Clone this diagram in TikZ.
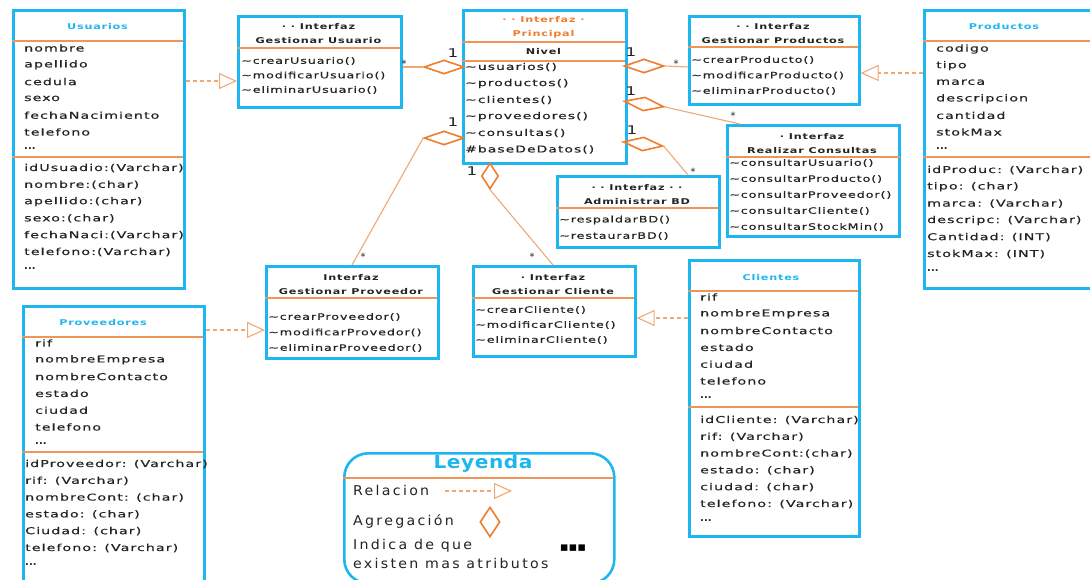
\documentclass[tikz,border=0pt]{standalone}
\usepackage{fontspec}
\usetikzlibrary{shapes.geometric,arrows.meta}
\newfontfamily\attrfont[FakeStretch=1.5,LetterSpace=11,FakeBold=0.4]{DejaVu Sans}
\newfontfamily\methfont[FakeStretch=1.45,LetterSpace=10,FakeBold=0.4]{DejaVu Sans}
\newfontfamily\headfont[FakeStretch=1.4,LetterSpace=10]{DejaVu Sans}
\newfontfamily\legfont[FakeStretch=1.05,LetterSpace=17]{DejaVu Sans}
\newfontfamily\bigtitlefont[FakeStretch=1.12,LetterSpace=3]{DejaVu Sans}
\newfontfamily\symfont{DejaVu Sans}
\newcommand\etcdots{{\symfont\fontsize{10}{10}\selectfont\bfseries ...}}
\definecolor{umlcyan}{RGB}{30,182,240}
\definecolor{sepor}{RGB}{236,150,90}
\definecolor{linkor}{RGB}{240,168,115}
\definecolor{diaor}{RGB}{238,125,45}
\definecolor{ink}{RGB}{35,35,35}

\tikzset{
  classbox/.style={draw=umlcyan, line width=2.6pt, rectangle, anchor=north west, inner sep=0pt},
  sep/.style={draw=sepor, line width=1.3pt},
  attr/.style={anchor=west, inner sep=0pt, font=\attrfont\fontsize{9.5}{11}\selectfont, text=ink},
  methA/.style={anchor=west, inner sep=0pt, font=\attrfont\fontsize{9.3}{11}\selectfont, text=ink},
  meth/.style={anchor=west, inner sep=0pt, font=\methfont\fontsize{8.8}{10}\selectfont, text=ink},
  ctitle/.style={inner sep=0pt, font=\headfont\bfseries\fontsize{8}{10}\selectfont, text=umlcyan},
  ititle/.style={inner sep=0pt, align=center, font=\headfont\bfseries\fontsize{8}{14}\selectfont, text=ink},
  agg/.style={draw=diaor, line width=1.6pt, diamond, minimum width=40pt, minimum height=14pt, inner sep=0pt},
  link/.style={draw=linkor, line width=1.1pt},
  rel/.style={draw=linkor, line width=1.1pt, dash pattern=on 4pt off 3pt,
    -{Triangle[open, length=18pt, width=16pt, line width=1.1pt]}},
  mult/.style={inner sep=0pt, font=\headfont\fontsize{12}{12}\selectfont, text=ink},
  star/.style={inner sep=0pt, font=\symfont\fontsize{10}{10}\selectfont, text=ink},
  legtext/.style={anchor=west, inner sep=0pt, font=\legfont\fontsize{13.5}{15}\selectfont, text=ink},
}

\begin{document}
\begin{tikzpicture}[x=1pt, y=-1pt]
\useasboundingbox (0,0) rectangle (1090,579);

% ---------- Usuarios ----------
\node[classbox, minimum width=171pt, minimum height=278pt] (usuarios) at (12,9) {};
\node[ctitle] (usuariosT) at (97.5,27) {Usuarios};
\draw[sep] (12,41) -- (183,41);
\draw[sep] (12,157) -- (183,157);
\foreach \t [count=\i] in {nombre, apellido, cedula, sexo, fechaNacimiento, telefono, \etcdots}
  \node[attr] (ua\i) at (24,{48+16.8*(\i-1)}) {\t};
\foreach \t [count=\i] in {idUsuadio:(Varchar), nombre:(char), apellido:(char), sexo:(char), fechaNaci:(Varchar), telefono:(Varchar), \etcdots}
  \node[attr] (ub\i) at (24,{168+16.8*(\i-1)}) {\t};

% ---------- Interfaz Gestionar Usuario ----------
\node[classbox, minimum width=163pt, minimum height=91pt] (gusuario) at (237,15) {};
\node[ititle] (gusuarioT) at (318.5,34) {· · Interfaz\\Gestionar Usuario};
\draw[sep] (237,48) -- (400,48);
\foreach \t [count=\i] in {\~{}crearUsuario(), \~{}modificarUsuario(), \~{}eliminarUsuario()}
  \node[meth] (gum\i) at (241,{61+14.5*(\i-1)}) {\t};

% ---------- Interfaz Principal ----------
\node[classbox, minimum width=163pt, minimum height=153pt] (principal) at (462,9) {};
\node[ititle, text=diaor] (principalT) at (543.5,27.5) {· · Interfaz ·\\Principal};
\draw[sep] (462,42) -- (625,42);
\node[ititle] (nivel) at (543.5,52) {Nivel};
\draw[sep] (462,61) -- (625,61);
\foreach \t [count=\i] in {\~{}usuarios(), \~{}productos(), \~{}clientes(), \~{}proveedores(), \~{}consultas(), \#baseDeDatos()}
  \node[methA] (pm\i) at (465,{67+16.5*(\i-1)}) {\t};

% ---------- Interfaz Gestionar Productos ----------
\node[classbox, minimum width=170pt, minimum height=88pt] (gproductos) at (688,15) {};
\node[ititle] (gproductosT) at (773,33.5) {· · Interfaz\\Gestionar Productos};
\draw[sep] (688,47) -- (858,47);
\foreach \t [count=\i] in {\~{}crearProducto(), \~{}modificarProducto(), \~{}eliminarProducto()}
  \node[meth] (gpm\i) at (691,{60+15.5*(\i-1)}) {\t};

% ---------- Productos ----------
\node[classbox, minimum width=180pt, minimum height=278pt] (productos) at (923,9) {};
\node[ctitle] (productosT) at (1004,27) {Productos};
\draw[sep] (923,41) -- (1095,41);
\draw[sep] (923,157) -- (1095,157);
\foreach \t [count=\i] in {codigo, tipo, marca, descripcion, cantidad, stokMax, \etcdots}
  \node[attr] (pa\i) at (936,{49+16.6*(\i-1)}) {\t};
\foreach \t [count=\i] in {idProduc: (Varchar), tipo: (char), marca: (Varchar), descripc: (Varchar), Cantidad: (INT), stokMax: (INT), \etcdots}
  \node[attr] (pb\i) at (927,{170+16.8*(\i-1)}) {\t};

% ---------- Interfaz Realizar Consultas ----------
\node[classbox, minimum width=172pt, minimum height=111pt] (consultas) at (726,124) {};
\node[ititle] (consultasT) at (812,143.5) {· Interfaz\\Realizar Consultas};
\draw[sep] (726,157) -- (900,157);
\foreach \t [count=\i] in {\~{}consultarUsuario(), \~{}consultarProducto(), \~{}consultarProveedor(), \~{}consultarCliente(), \~{}consultarStockMin()}
  \node[meth] (cm\i) at (729,{163+16*(\i-1)}) {\t};

% ---------- Interfaz Administrar BD ----------
\node[classbox, minimum width=162pt, minimum height=71pt] (admbd) at (556,175) {};
\node[ititle] (admbdT) at (637,195) {· · Interfaz · ·\\Administrar BD};
\draw[sep] (556,208) -- (718,208);
\foreach \t [count=\i] in {\~{}respaldarBD(), \~{}restaurarBD()}
  \node[meth] (am\i) at (559,{220+16*(\i-1)}) {\t};

% ---------- Interfaz Gestionar Proveedor ----------
\node[classbox, minimum width=172pt, minimum height=92pt] (gproveedor) at (265,265) {};
\node[ititle] (gproveedorT) at (351,285) {Interfaz\\Gestionar Proveedor};
\draw[sep] (265,298) -- (437,298);
\foreach \t [count=\i] in {\~{}crearProveedor(), \~{}modificarProvedor(), \~{}eliminarProveedor()}
  \node[meth] (gvm\i) at (268,{317+15.5*(\i-1)}) {\t};

% ---------- Interfaz Gestionar Cliente ----------
\node[classbox, minimum width=162pt, minimum height=90pt] (gcliente) at (472,265) {};
\node[ititle] (gclienteT) at (553,285) {· Interfaz\\Gestionar Cliente};
\draw[sep] (472,298) -- (634,298);
\foreach \t [count=\i] in {\~{}crearCliente(), \~{}modificarCliente(), \~{}eliminarCliente()}
  \node[meth] (gcm\i) at (475,{310+15*(\i-1)}) {\t};

% ---------- Clientes ----------
\node[classbox, minimum width=170pt, minimum height=276pt] (clientes) at (688,259) {};
\node[ctitle] (clientesT) at (771,278) {Clientes};
\draw[sep] (688,291) -- (858,291);
\draw[sep] (688,407) -- (858,407);
\foreach \t [count=\i] in {rif, nombreEmpresa, nombreContacto, estado, ciudad, telefono, \etcdots}
  \node[attr] (ca\i) at (700,{297+16.8*(\i-1)}) {\t};
\foreach \t [count=\i] in {idCliente: (Varchar), rif: (Varchar), nombreCont:(char), estado: (char), ciudad: (char), telefono: (Varchar), \etcdots}
  \node[attr] (cb\i) at (700,{420+16.8*(\i-1)}) {\t};

% ---------- Proveedores ----------
\node[classbox, minimum width=181pt, minimum height=285pt] (proveedores) at (22,305) {};
\node[ctitle] (proveedoresT) at (103,323) {Proveedores};
\draw[sep] (22,337) -- (203,337);
\draw[sep] (22,452) -- (203,452);
\foreach \t [count=\i] in {rif, nombreEmpresa, nombreContacto, estado, ciudad, telefono, \etcdots}
  \node[attr] (va\i) at (35,{343+16.8*(\i-1)}) {\t};
\foreach \t [count=\i] in {idProveedor: (Varchar), rif: (Varchar), nombreCont: (char), estado: (char), Ciudad: (char), telefono: (Varchar), \etcdots}
  \node[attr] (vb\i) at (25,{464+16.8*(\i-1)}) {\t};

% ---------- Aggregation diamonds ----------
\node[agg] (d1) at (444,67) {};
\node[agg] (d2) at (644,66) {};
\node[agg, rotate=-8] (d3) at (644,104) {};
\node[agg, rotate=-6] (d4) at (643,144) {};
\node[agg, minimum width=17pt, minimum height=26pt] (d5) at (490,176) {};
\node[agg] (d6) at (444,138) {};

% ---------- Connectors ----------
\draw[link] (gusuario.east |- 0,67) -- (d1.west);
\draw[link] (d2.east) -- (gproductos.west |- 0,67);
\draw[link] (d3.east) -- ([xshift=14pt]consultas.north west);
\draw[link] (d4.east) -- ([xshift=132pt]admbd.north west);
\draw[link] (d5.south) -- ([xshift=81pt]gcliente.north west);
\draw[link] (d6.west) -- ([xshift=87pt]gproveedor.north west);

\draw[rel] (usuarios.east |- 0,81) -- (gusuario.west |- 0,81);
\draw[rel] (productos.west |- 0,73) -- (gproductos.east |- 0,73);
\draw[rel] (proveedores.east |- 0,330) -- (gproveedor.west |- 0,330);
\draw[rel] (clientes.west |- 0,318) -- (gcliente.east |- 0,318);

% ---------- Multiplicities ----------
\node[mult] (m1) at (453,53) {1};
\node[star] (s1) at (404,64) {*};
\node[mult] (m2) at (631,52) {1};
\node[star] (s2) at (676,64) {*};
\node[mult] (m3) at (631,91) {1};
\node[star] (s3) at (733,116) {*};
\node[mult] (m4) at (632,130) {1};
\node[star] (s4) at (693,172) {*};
\node[mult] (m5) at (472,171) {1};
\node[star] (s5) at (532,257) {*};
\node[mult] (m6) at (453,122) {1};
\node[star] (s6) at (363,257) {*};

% ---------- Legend ----------
\node[draw=umlcyan, line width=2.6pt, rectangle, rounded corners=24pt, anchor=north west,
      minimum width=270pt, minimum height=130pt, inner sep=0pt] (leyenda) at (343,452) {};
\node[inner sep=0pt, font=\bigtitlefont\bfseries\fontsize{18}{18}\selectfont, text=umlcyan] (leyendaT) at (483,464) {Leyenda};
\draw[sep] (343,478) -- (613,478);
\node[legtext] (lrel) at (353,490) {Relacion};
\coordinate (lrelA) at (445,491);
\coordinate (lrelB) at (512,491);
\draw[rel] (lrelA) -- (lrelB);
\node[legtext] (lagg) at (353,521) {Agregación};
\node[agg, minimum width=20pt, minimum height=30pt] (ldia) at (490,522) {};
\node[legtext] (lind1) at (353,546) {Indica de que};
\node[legtext] (lind2) at (353,563) {existen mas atributos};
\node[inner sep=0pt, font=\symfont\fontsize{13}{13}\selectfont, text=black] (ldots) at (573,548) {▪▪▪};
\end{tikzpicture}
\end{document}
